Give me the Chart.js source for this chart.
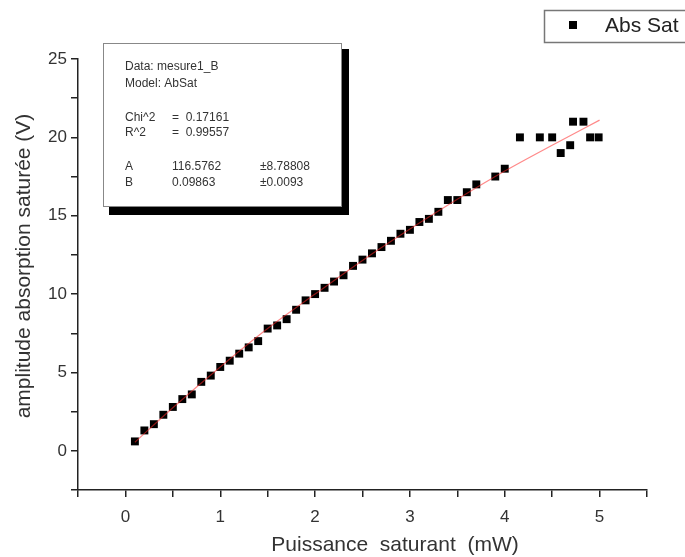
<!DOCTYPE html>
<html>
<head>
<meta charset="utf-8">
<script src="https://cdn.jsdelivr.net/npm/chart.js@4.4.0/dist/chart.umd.min.js"></script>
<style>
  html, body { margin: 0; padding: 0; background: #fff; }
  #wrap { width: 685px; height: 557px; }
</style>
</head>
<body>
<div id="wrap"><canvas id="graph" width="685" height="557"></canvas></div>
<script>
// valeurs
const puissance = [0.1, 0.2, 0.3, 0.4, 0.5, 0.6, 0.7, 0.8, 0.9, 1.0,
    1.1, 1.2, 1.3, 1.4, 1.5, 1.6, 1.7, 1.8, 1.9, 2.0,
    2.1, 2.2, 2.3, 2.4, 2.5, 2.6, 2.7, 2.8, 2.9, 3.0,
    3.1, 3.2, 3.3, 3.4, 3.5, 3.6, 3.7, 3.9, 4.0,
    4.16, 4.37, 4.5, 4.59, 4.69, 4.72, 4.83, 4.9, 4.99];
const amplitude = [0.6, 1.3, 1.7, 2.3, 2.8, 3.3, 3.6, 4.4, 4.8, 5.35,
    5.75, 6.2, 6.6, 7.0, 7.8, 8.0, 8.4, 9.0, 9.6, 10.0,
    10.4, 10.8, 11.2, 11.8, 12.2, 12.6, 13.0, 13.4, 13.85, 14.1,
    14.6, 14.8, 15.25, 16.0, 16.0, 16.5, 17.0, 17.5, 18.0,
    20.0, 20.0, 20.0, 19.0, 19.5, 21.0, 21.0, 20.0, 20.0];

// courbe du fit (rouge)
const fitX = [0.1, 0.5, 1, 1.5, 2, 2.5, 3, 3.5, 4, 4.5, 5];
const fitY = [0.55, 2.75, 5.35, 7.8, 10.0, 12.15, 14.15, 16.05, 17.85, 19.5, 21.1];

const xTicks = [0, 1, 2, 3, 4, 5];
const yTicks = [0, 5, 10, 15, 20, 25];

const infoLines = [
    ["Data: mesure1_B"],
    ["Model: AbSat"],
    ["Chi^2", "=  0.17161"],
    ["R^2", "=  0.99557"],
    ["A", "116.5762", "±8.78808"],
    ["B", "0.09863", "±0.0093"],
];

const FONT = "'Liberation Sans', Arial, sans-serif";

const pts = puissance.map((x, i) => ({ x: x, y: amplitude[i] }));
const fitPts = fitX.map((x, i) => ({ x: x, y: fitY[i] }));

// fond blanc, boite de resultats, legende, titres des axes
const decor = {
    id: "decor",
    beforeDraw(chart) {
        const ctx = chart.ctx;
        ctx.save();
        ctx.fillStyle = "#fff";
        ctx.fillRect(0, 0, chart.width, chart.height);
        ctx.restore();
    },
    afterDraw(chart) {
        const ctx = chart.ctx;
        ctx.save();

        // boite du fit
        ctx.fillStyle = "#000";
        ctx.fillRect(109, 49, 240, 166);
        ctx.fillStyle = "#fff";
        ctx.fillRect(103, 43, 239, 164);
        ctx.strokeStyle = "#888";
        ctx.lineWidth = 1;
        ctx.strokeRect(103.5, 43.5, 238, 163);

        ctx.fillStyle = "#333";
        ctx.font = "12px " + FONT;
        ctx.textBaseline = "middle";
        const rowsY = [67, 83.5, 117.5, 132.5, 167, 183];
        const colsX = [125, 172, 260];
        infoLines.forEach(function(line, i) {
            line.forEach(function(txt, j) {
                ctx.fillText(txt, colsX[j], rowsY[i]);
            });
        });

        // legende
        ctx.fillStyle = "#fff";
        ctx.fillRect(544, 10, 160, 33);
        ctx.strokeStyle = "#777";
        ctx.lineWidth = 1.5;
        ctx.strokeRect(544.5, 10.5, 160, 32);
        ctx.fillStyle = "#000";
        ctx.fillRect(569, 21, 8, 8);
        ctx.fillStyle = "#222";
        ctx.font = "21px " + FONT;
        ctx.fillText("Abs Sat", 605, 26);

        // titres des axes
        ctx.fillStyle = "#333";
        ctx.font = "21px " + FONT;
        ctx.textAlign = "center";
        ctx.fillText("Puissance  saturant  (mW)", 395, 545);
        ctx.translate(24, 266);
        ctx.rotate(-Math.PI / 2);
        ctx.fillText("amplitude absorption saturée (V)", 0, 0);

        ctx.restore();
    },
};

const graph = document.getElementById("graph");

const config = {
    type: "scatter",
    data: {
        datasets: [
            {
                type: "line",
                label: "fit",
                data: fitPts,
                borderColor: "rgba(255, 40, 40, 0.55)",
                borderWidth: 1.2,
                pointRadius: 0,
                fill: false,
                cubicInterpolationMode: "monotone",
            },
            {
                label: "Abs Sat",
                data: pts,
                pointStyle: "rect",
                pointRadius: 5.6,
                pointBackgroundColor: "#000",
                pointBorderWidth: 0,
                borderColor: "#000",
            },
        ],
    },
    options: {
        responsive: false,
        animation: false,
        layout: { padding: { top: 59, right: 38, left: 0, bottom: 0 } },
        plugins: {
            legend: { display: false },
            tooltip: { enabled: false },
        },
        scales: {
            x: {
                type: "linear",
                position: "bottom",
                min: -0.5,
                max: 5.5,
                afterFit(s) { s.height = 67; },
                border: { color: "#222", width: 1.5 },
                grid: {
                    drawOnChartArea: false,
                    drawTicks: true,
                    tickLength: 7,
                    color: "#222",
                    lineWidth: 1.5,
                },
                ticks: {
                    stepSize: 0.5,
                    autoSkip: false,
                    maxRotation: 0,
                    padding: 10,
                    color: "#333",
                    font: { family: FONT, size: 17 },
                    callback: (v) => (xTicks.includes(v) ? v : ""),
                },
            },
            y: {
                type: "linear",
                position: "left",
                min: -2.5,
                max: 25,
                afterFit(s) { s.width = 78; },
                border: { color: "#222", width: 1.5 },
                grid: {
                    drawOnChartArea: false,
                    drawTicks: true,
                    tickLength: 7,
                    color: "#222",
                    lineWidth: 1.5,
                },
                ticks: {
                    stepSize: 2.5,
                    autoSkip: false,
                    padding: 4,
                    color: "#333",
                    font: { family: FONT, size: 17 },
                    callback: (v) => (yTicks.includes(v) ? v : ""),
                },
            },
        },
    },
    plugins: [decor],
};

let myChart = new Chart(graph, config);
</script>
</body>
</html>
